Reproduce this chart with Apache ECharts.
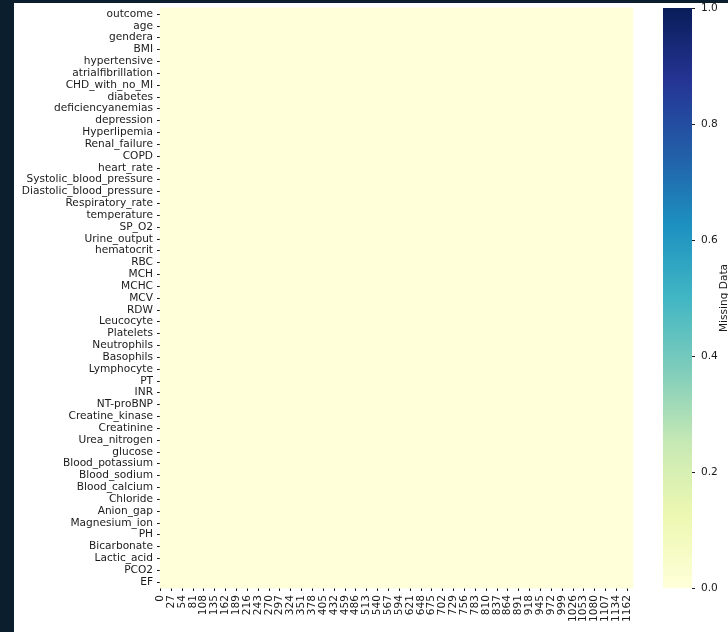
<!DOCTYPE html>
<html>
<head>
<meta charset="utf-8">
<script src="https://cdn.jsdelivr.net/npm/echarts@6/dist/echarts.min.js"></script>
<style>
  html, body { margin: 0; padding: 0; background: #0b1e2d; width: 728px; height: 632px; overflow: hidden; }
  #panel { position: absolute; left: 14px; top: 3px; right: 0; bottom: 0; background: #ffffff; }
  #chart { position: absolute; left: 0; top: 0; width: 728px; height: 632px; }
</style>
</head>
<body>
<div id="panel"></div>
<div id="chart"></div>
<script>
// Columns of the patient table (one heatmap row each)
const variables = [
  'outcome', 'age', 'gendera', 'BMI', 'hypertensive', 'atrialfibrillation',
  'CHD_with_no_MI', 'diabetes', 'deficiencyanemias', 'depression', 'Hyperlipemia',
  'Renal_failure', 'COPD', 'heart_rate', 'Systolic_blood_pressure',
  'Diastolic_blood_pressure', 'Respiratory_rate', 'temperature', 'SP_O2',
  'Urine_output', 'hematocrit', 'RBC', 'MCH', 'MCHC', 'MCV', 'RDW', 'Leucocyte',
  'Platelets', 'Neutrophils', 'Basophils', 'Lymphocyte', 'PT', 'INR', 'NT-proBNP',
  'Creatine_kinase', 'Creatinine', 'Urea_nitrogen', 'glucose', 'Blood_potassium',
  'Blood_sodium', 'Blood_calcium', 'Chloride', 'Anion_gap', 'Magnesium_ion', 'PH',
  'Bicarbonate', 'Lactic_acid', 'PCO2', 'EF'
];

// Record index: 0..1176 with the one dropped record removed
const firstIndex = 0;
const lastIndex = 1176;
const droppedIndexes = [1150];

// Rows that are missing, per variable (none after imputation)
const missingRows = {};

// Colour-bar scale
const colorbarTicks = [0.0, 0.2, 0.4, 0.6, 0.8, 1.0];
const ylgnbu = ['#ffffd9', '#edf8b1', '#c7e9b4', '#7fcdbb', '#41b6c4',
                '#1d91c0', '#225ea8', '#253494', '#081d58'];

const recordIndex = [];
for (let i = firstIndex; i <= lastIndex; i++) {
  if (!droppedIndexes.includes(i)) recordIndex.push(String(i));
}

const cells = [];
variables.forEach((v, yi) => {
  const miss = missingRows[v] || [];
  recordIndex.forEach((r, xi) => {
    cells.push([xi, yi, miss.includes(Number(r)) ? 1 : 0]);
  });
});

const font = 'DejaVu Sans';
const txt = '#1a1a1a';
const fs = 10.6;

const chart = echarts.init(document.getElementById('chart'), null, { renderer: 'canvas' });
chart.setOption({
  animation: false,
  backgroundColor: 'transparent',
  textStyle: { fontFamily: font },
  grid: [
    { left: 160, top: 8, width: 473, height: 580, outerBoundsMode: 'none', containLabel: false },
    { left: 663, top: 8, width: 29, height: 580, outerBoundsMode: 'none', containLabel: false }
  ],
  xAxis: [
    {
      type: 'category', gridIndex: 0, data: recordIndex,
      axisLine: { show: false },
      axisTick: { show: true, interval: 26, alignWithLabel: true, length: 3, lineStyle: { color: txt, width: 1 } },
      axisLabel: { interval: 26, rotate: 90, fontSize: fs, color: txt, fontFamily: font, margin: 7 },
      splitLine: { show: false }
    },
    { type: 'category', gridIndex: 1, data: ['bar'], show: false }
  ],
  yAxis: [
    {
      type: 'category', gridIndex: 0, data: variables, inverse: true,
      axisLine: { show: false },
      axisTick: { show: true, alignWithLabel: true, length: 3, lineStyle: { color: txt, width: 1 } },
      axisLabel: { interval: 0, fontSize: fs, color: txt, fontFamily: font, margin: 7 },
      splitLine: { show: false }
    },
    {
      type: 'value', gridIndex: 1, position: 'right', min: 0, max: 1, interval: 0.2,
      axisLine: { show: false },
      axisTick: { show: true, length: 3, lineStyle: { color: txt, width: 1 } },
      axisLabel: { fontSize: fs, color: txt, fontFamily: font, margin: 9,
                   formatter: v => colorbarTicks.includes(Math.round(v * 10) / 10) ? v.toFixed(1) : '' },
      splitLine: { show: false },
      name: 'Missing Data', nameLocation: 'middle', nameRotate: 90, nameGap: 27,
      nameMoveOverlap: false,
      nameTextStyle: { fontSize: fs, color: txt, fontFamily: font }
    }
  ],
  visualMap: {
    show: false, type: 'continuous', min: 0, max: 1, seriesIndex: 0, dimension: 2,
    inRange: { color: ylgnbu }
  },
  series: [
    {
      type: 'heatmap', xAxisIndex: 0, yAxisIndex: 0, data: cells,
      progressive: 0, itemStyle: { borderWidth: 0 }, emphasis: { disabled: true }
    },
    {
      type: 'bar', xAxisIndex: 1, yAxisIndex: 1, data: [1], barWidth: '100%',
      silent: true,
      itemStyle: {
        color: new echarts.graphic.LinearGradient(0, 0, 0, 1,
          ylgnbu.slice().reverse().map((c, i, a) => ({ offset: i / (a.length - 1), color: c })))
      }
    }
  ]
});
</script>
</body>
</html>
